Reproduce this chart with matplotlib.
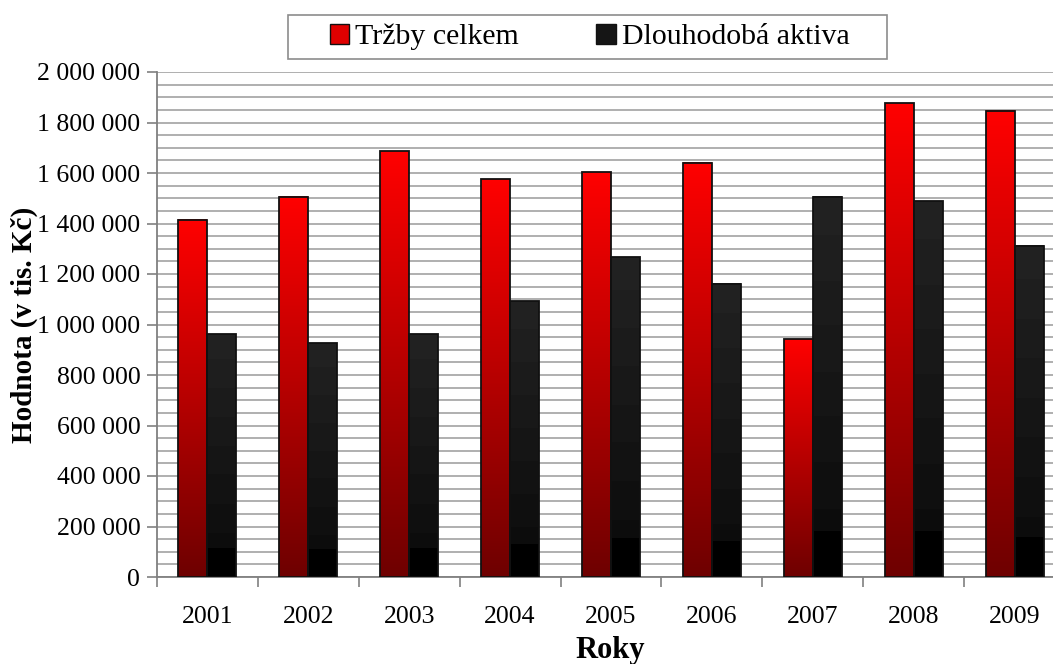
import numpy as np
import matplotlib
matplotlib.use("Agg")
import matplotlib.pyplot as plt
from matplotlib.ticker import FuncFormatter, MultipleLocator
from matplotlib.patches import Patch, Rectangle

years = ["2001", "2002", "2003", "2004", "2005", "2006", "2007", "2008", "2009"]
trzby = [1414000, 1505000, 1687000, 1575000, 1603000, 1641000, 941000, 1877000, 1846000]
aktiva = [961000, 925000, 962000, 1093000, 1266000, 1162000, 1505000, 1489000, 1311000]
series_names = ["Tržby celkem", "Dlouhodobá aktiva"]

plt.rcParams['font.family'] = ['Liberation Serif', 'DejaVu Serif']

W, H = 1053, 664
fig = plt.figure(figsize=(W / 100, H / 100), dpi=100)
ax = fig.add_axes([157/W, 87/H, 908/W, 505/H])

x = np.arange(len(years))
w = 0.287

# gradients
n = 256
t = np.linspace(0, 1, n)  # 0 bottom -> 1 top
red_grad = np.zeros((n, 1, 3))
red_grad[:, 0, 0] = (110 + (255 - 110) * t) / 255.0
black_vals = np.where(t < 0.12, 0.0, (12 + (34 - 12) * (t - 0.12) / 0.88))
black_vals = np.round(black_vals / 3) * 3  # banding
black_grad = np.repeat((black_vals / 255.0)[:, None, None], 3, axis=2)

for i in range(len(years)):
    for off, val, grad in ((-w / 2, trzby[i], red_grad), (w / 2, aktiva[i], black_grad)):
        x0 = x[i] + off - w / 2
        ax.imshow(grad, extent=[x0, x0 + w, 0, val], origin='lower',
                  aspect='auto', zorder=3, interpolation='nearest')
ax.bar(x - w / 2, trzby, w, facecolor='none', edgecolor='#111111', linewidth=1.3, zorder=4)
ax.bar(x + w / 2, aktiva, w, facecolor='none', edgecolor='#111111', linewidth=1.3, zorder=4)

ax.set_xlim(-0.5, len(years) - 0.5)
ax.set_ylim(0, 2000000)

ax.yaxis.set_major_locator(MultipleLocator(200000))
ax.yaxis.set_minor_locator(MultipleLocator(50000))
ax.yaxis.set_major_formatter(FuncFormatter(lambda v, p: f"{int(v):,}".replace(",", " ")))
ax.grid(True, which='both', axis='y', color='#9a9a9a', linewidth=1.1, zorder=0)
ax.set_axisbelow(True)
ax.tick_params(axis='y', which='minor', length=0)
ax.tick_params(axis='y', which='major', length=7, color='#808080', width=1.2,
               labelsize=18.5, pad=5)

ax.set_xticks(x)
ax.set_xticklabels(years)
ax.set_xticks(np.arange(len(years) + 1) - 0.5, minor=True)
ax.tick_params(axis='x', which='major', length=0, labelsize=18.5, pad=21)
ax.tick_params(axis='x', which='minor', length=7, color='#808080', width=1.2)

for s in ('top', 'right'):
    ax.spines[s].set_visible(False)
for s in ('left', 'bottom'):
    ax.spines[s].set_color('#808080')
    ax.spines[s].set_linewidth(1.3)

ax.set_ylabel("Hodnota (v tis. Kč)", fontsize=21, fontweight='bold')
ax.yaxis.set_label_coords(-(157 - 38) / 908, 0.5)
ax.set_xlabel("Roky", fontsize=22, fontweight='bold')
ax.xaxis.set_label_coords((610 - 157) / 908, -(636 - 577) / 505)

# legend box
fig.patches.append(Rectangle((288 / W, 1 - 59 / H), (887 - 288) / W, 44 / H,
                             transform=fig.transFigure, facecolor='white',
                             edgecolor='#8c8c8c', linewidth=1.2, zorder=1))
handles = [Patch(facecolor='#e00000', edgecolor='#111111', linewidth=1.0),
           Patch(facecolor='#151515', edgecolor='#111111', linewidth=1.0)]
leg = fig.legend(handles, series_names, loc='center', bbox_to_anchor=(589.5 / W, 1 - 37 / H),
                 ncol=2, fontsize=21.5, frameon=False,
                 handlelength=0.65, handleheight=0.65, handletextpad=0.2,
                 columnspacing=2.6, borderpad=0, borderaxespad=0)
leg.set_zorder(2)

fig.savefig("out.png", dpi=100)
